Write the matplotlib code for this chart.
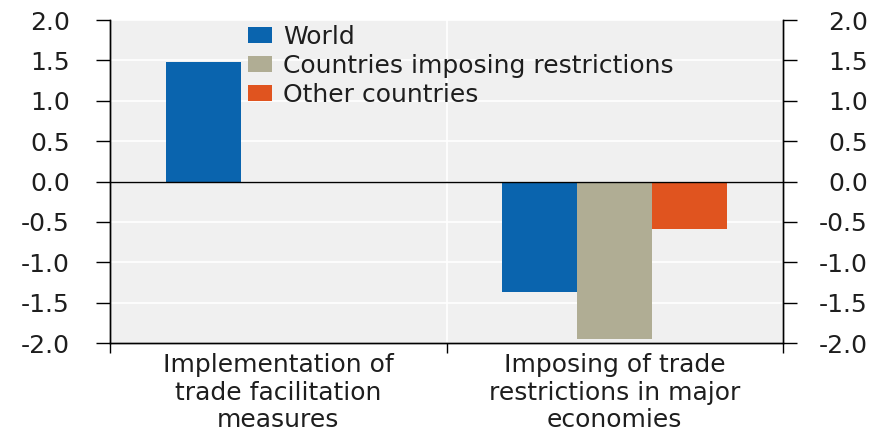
import matplotlib.pyplot as plt
import numpy as np

categories = ["Implementation of\ntrade facilitation\nmeasures",
              "Imposing of trade\nrestrictions in major\neconomies"]
series_names = ["World", "Countries imposing restrictions", "Other countries"]
world = [1.48, -1.37]
imposing = [np.nan, -1.95]
other = [np.nan, -0.59]
yticks = [-2.0, -1.5, -1.0, -0.5, 0.0, 0.5, 1.0, 1.5, 2.0]

colors = ["#0a64ae", "#b0ad94", "#e0541f"]
plt.rcParams['font.family'] = ['DejaVu Sans']
fs = 18
txt = "#1e1e1e"

fig = plt.figure(figsize=(8.84, 4.32), dpi=100)
ax = fig.add_axes([0.1244, 0.206, 0.7614, 0.7477])
ax.set_facecolor("#f0f0f0")

x = np.arange(len(categories))
w = 0.223
for i, (vals, name) in enumerate(zip([world, imposing, other], series_names)):
    ax.bar(x + (i - 1) * w, vals, w, color=colors[i], label=name, zorder=3)

ax.axhline(0, color="black", lw=1, zorder=4)
ax.set_xlim(-0.5, 1.5)
ax.set_ylim(-2, 2)
ax.set_yticks(yticks)
ax.set_yticklabels([f"{v:.1f}" for v in yticks])
ax.yaxis.grid(True, color="white", lw=1.2, zorder=1)
ax.set_xticks(x)
ax.set_xticklabels(categories, fontsize=fs, color=txt, linespacing=1.2)
ax.set_xticks([-0.5, 0.5, 1.5], minor=True)
ax.xaxis.grid(True, which="minor", color="white", lw=1.2, zorder=1)
ax.tick_params(axis="x", which="major", length=0, pad=7)
ax.tick_params(axis="x", which="minor", length=7, width=1, color="black")
ax.tick_params(axis="y", labelsize=fs, labelcolor=txt, length=10, width=1,
               pad=19, left=True, right=True, labelleft=True)

ax2 = ax.twinx()
ax2.set_ylim(-2, 2)
ax2.set_yticks(yticks)
ax2.set_yticklabels([f"{v:.1f}" for v in yticks], ha="right")
ax2.tick_params(axis="y", labelsize=fs, labelcolor=txt, length=10, width=1, pad=51)

for a in (ax, ax2):
    a.spines["top"].set_visible(False)
    for s in ("left", "right", "bottom"):
        a.spines[s].set_color("black")
        a.spines[s].set_linewidth(1)

ax.legend(loc="upper left", bbox_to_anchor=(0.205, 0.985), frameon=False,
          fontsize=fs, borderpad=0, borderaxespad=0, handlelength=0.95,
          handleheight=0.55, handletextpad=0.45, labelspacing=0.2, labelcolor=txt)

fig.savefig("out.png", dpi=100)
